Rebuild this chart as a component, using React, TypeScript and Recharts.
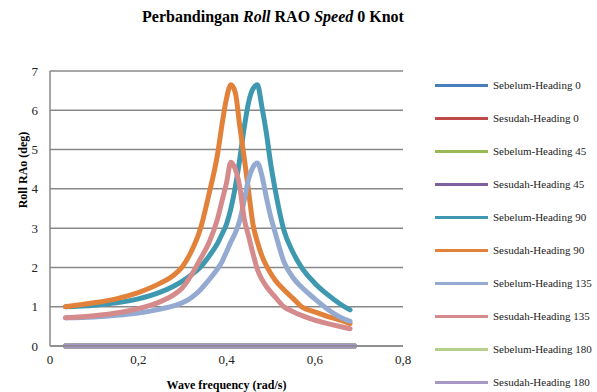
import { LineChart, Line, XAxis, YAxis, CartesianGrid } from 'recharts';

// wave frequency (rad/s)
const freq = [0.035, 0.1, 0.15, 0.2, 0.25, 0.28, 0.3, 0.32, 0.34, 0.36, 0.38, 0.39, 0.4, 0.41, 0.42, 0.43, 0.44, 0.45, 0.46, 0.47, 0.48, 0.49, 0.5, 0.51, 0.53, 0.55, 0.57, 0.6, 0.63, 0.66, 0.68, 0.69];

// roll RAO (deg)
const sebelum0 = [0, 0, 0, 0, 0, 0, 0, 0, 0, 0, 0, 0, 0, 0, 0, 0, 0, 0, 0, 0, 0, 0, 0, 0, 0, 0, 0, 0, 0, 0, 0, 0];
const sesudah0 = [0, 0, 0, 0, 0, 0, 0, 0, 0, 0, 0, 0, 0, 0, 0, 0, 0, 0, 0, 0, 0, 0, 0, 0, 0, 0, 0, 0, 0, 0, 0, 0];
const sebelum45 = [0, 0, 0, 0, 0, 0, 0, 0, 0, 0, 0, 0, 0, 0, 0, 0, 0, 0, 0, 0, 0, 0, 0, 0, 0, 0, 0, 0, 0, 0, 0, 0];
const sesudah45 = [0, 0, 0, 0, 0, 0, 0, 0, 0, 0, 0, 0, 0, 0, 0, 0, 0, 0, 0, 0, 0, 0, 0, 0, 0, 0, 0, 0, 0, 0, 0, 0];
const sebelum90 = [1.0, 1.04, 1.1, 1.2, 1.37, 1.52, 1.65, 1.81, 2.0, 2.28, 2.62, 2.85, 3.1, 3.5, 4.05, 4.75, 5.55, 6.2, 6.55, 6.65, 6.1, 5.45, 4.65, 4.0, 2.95, 2.4, 2.0, 1.6, 1.3, 1.05, 0.92];
const sesudah90 = [1.0, 1.1, 1.2, 1.36, 1.6, 1.8, 2.02, 2.4, 2.95, 3.85, 4.9, 5.65, 6.3, 6.65, 6.45, 5.6, 4.8, 3.95, 3.1, 2.65, 2.3, 2.05, 1.85, 1.68, 1.43, 1.22, 1.0, 0.87, 0.75, 0.65, 0.57];
const sebelum135 = [0.72, 0.74, 0.78, 0.84, 0.94, 1.02, 1.1, 1.23, 1.42, 1.68, 1.97, 2.15, 2.4, 2.65, 2.88, 3.2, 3.7, 4.25, 4.55, 4.66, 4.35, 3.8, 3.3, 2.9, 2.15, 1.75, 1.5, 1.2, 0.93, 0.72, 0.63];
const sesudah135 = [0.72, 0.77, 0.84, 0.95, 1.13, 1.3, 1.48, 1.8, 2.2, 2.62, 3.25, 3.7, 4.15, 4.68, 4.5, 4.05, 3.25, 2.8, 2.35, 1.95, 1.7, 1.52, 1.38, 1.25, 1.0, 0.88, 0.78, 0.66, 0.57, 0.49, 0.44];
const sebelum180 = [0, 0, 0, 0, 0, 0, 0, 0, 0, 0, 0, 0, 0, 0, 0, 0, 0, 0, 0, 0, 0, 0, 0, 0, 0, 0, 0, 0, 0, 0, 0, 0];
const sesudah180 = [0, 0, 0, 0, 0, 0, 0, 0, 0, 0, 0, 0, 0, 0, 0, 0, 0, 0, 0, 0, 0, 0, 0, 0, 0, 0, 0, 0, 0, 0, 0, 0];

const xTicks = [0, 0.2, 0.4, 0.6, 0.8];
const yTicks = [0, 1, 2, 3, 4, 5, 6, 7];

const series = [
  { key: 's0', name: 'Sebelum-Heading 0', values: sebelum0, color: '#4A7EBB' },
  { key: 'u0', name: 'Sesudah-Heading 0', values: sesudah0, color: '#BE4B48' },
  { key: 's45', name: 'Sebelum-Heading 45', values: sebelum45, color: '#98B954' },
  { key: 'u45', name: 'Sesudah-Heading 45', values: sesudah45, color: '#7D60A0' },
  { key: 's90', name: 'Sebelum-Heading 90', values: sebelum90, color: '#3E98B0' },
  { key: 'u90', name: 'Sesudah-Heading 90', values: sesudah90, color: '#E2823A' },
  { key: 's135', name: 'Sebelum-Heading 135', values: sebelum135, color: '#94AAD0' },
  { key: 'u135', name: 'Sesudah-Heading 135', values: sesudah135, color: '#D58B8B' },
  { key: 's180', name: 'Sebelum-Heading 180', values: sebelum180, color: '#B5CF8D' },
  { key: 'u180', name: 'Sesudah-Heading 180', values: sesudah180, color: '#A797C4' },
];

const data = freq.map((f, i) => {
  const row: Record<string, number | null> = { freq: f };
  series.forEach(s => {
    row[s.key] = i < s.values.length ? s.values[i] : null;
  });
  return row;
});

const serif = '"Liberation Serif", "Times New Roman", serif';
const gridGray = '#888888';

export default function App() {
  return (
    <div style={{ position: 'absolute', left: 0, top: 0, width: 597, height: 392, background: '#fff', fontFamily: serif }}>
      <div style={{ position: 'absolute', left: 0, width: 546, top: 8, textAlign: 'center', fontSize: 16, fontWeight: 'bold', color: '#000' }}>
        Perbandingan <i>Roll</i> RAO <i>Speed</i> 0 Knot
      </div>
      <div style={{ position: 'absolute', left: 23, top: 170, transform: 'translate(-50%, -50%) rotate(-90deg)', fontSize: 12, fontWeight: 'bold', whiteSpace: 'nowrap', color: '#000' }}>
        Roll RAo (deg)
      </div>
      <LineChart width={597} height={392} data={data} margin={{ top: 71, right: 194, bottom: 0, left: 10 }}>
        <CartesianGrid vertical={false} stroke={gridGray} strokeWidth={1.5} />
        <XAxis
          dataKey="freq"
          type="number"
          domain={[0, 0.8]}
          ticks={xTicks}
          tickFormatter={(v: number) => String(v).replace('.', ',')}
          height={46}
          tickLine={false}
          axisLine={{ stroke: gridGray, strokeWidth: 1.5 }}
          tickMargin={3}
          tick={{ fontFamily: serif, fontSize: 13, fill: '#222' }}
          label={{ value: 'Wave frequency (rad/s)', position: 'insideBottom', offset: 3, style: { fontFamily: serif, fontSize: 12, fontWeight: 'bold', fill: '#000' } }}
        />
        <YAxis
          type="number"
          domain={[0, 7]}
          ticks={yTicks}
          width={40}
          tickLine={false}
          axisLine={{ stroke: gridGray, strokeWidth: 1.5 }}
          tickMargin={6}
          tick={{ fontFamily: serif, fontSize: 13, fill: '#222' }}
        />
        {series.map(s => (
          <Line
            key={s.key}
            dataKey={s.key}
            name={s.name}
            type="monotone"
            stroke={s.color}
            strokeWidth={5}
            strokeLinecap="round"
            strokeLinejoin="round"
            dot={false}
            activeDot={false}
            isAnimationActive={false}
          />
        ))}
      </LineChart>
      <div style={{ position: 'absolute', left: 435, top: 85 }}>
        {series.map((s, i) => (
          <div key={s.key} style={{ position: 'absolute', left: 0, top: i * 33, display: 'flex', alignItems: 'center', transform: 'translateY(-50%)', whiteSpace: 'nowrap' }}>
            <div style={{ width: 53, height: 3, background: s.color }} />
            <span style={{ marginLeft: 5, fontSize: 11, color: '#222' }}>{s.name}</span>
          </div>
        ))}
      </div>
    </div>
  );
}
